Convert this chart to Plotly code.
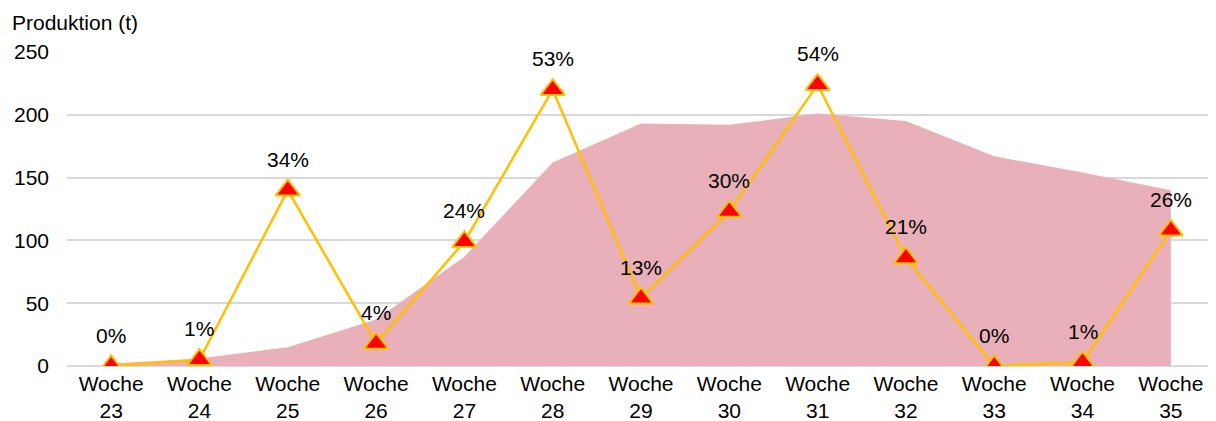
import plotly.graph_objects as go

weeks = ["Woche<br>23", "Woche<br>24", "Woche<br>25", "Woche<br>26", "Woche<br>27", "Woche<br>28",
         "Woche<br>29", "Woche<br>30", "Woche<br>31", "Woche<br>32", "Woche<br>33", "Woche<br>34", "Woche<br>35"]
area_values = [2, 6, 15, 37, 87, 162, 193, 192, 201, 195, 167, 154, 140]
line_values = [0, 5, 140, 18, 99, 220, 54, 123, 224, 86, 0, 3, 108]
pct_labels = ["0%", "1%", "34%", "4%", "24%", "53%", "13%", "30%", "54%", "21%", "0%", "1%", "26%"]
y_ticks = [0, 50, 100, 150, 200, 250]

FONT = "Liberation Sans, Arial, sans-serif"
FS = 21

fig = go.Figure()
fig.add_trace(go.Scatter(
    x=weeks, y=area_values, mode="none", fill="tozeroy",
    fillcolor="rgb(233,176,185)", hoverinfo="skip", showlegend=False,
))
fig.add_trace(go.Scatter(
    x=weeks, y=line_values, mode="lines+markers",
    line=dict(color="#FFC000", width=2.5),
    marker=dict(symbol="triangle-up", size=21, color="#FF0000",
                line=dict(color="#FFC000", width=2)),
    showlegend=False,
))
for w, v, t in zip(weeks, line_values, pct_labels):
    fig.add_annotation(x=w, y=v, text=t, showarrow=False, yshift=31,
                       font=dict(family=FONT, size=FS, color="#000000"))

fig.add_annotation(xref="paper", yref="paper", x=-0.0497, y=1.0, xanchor="left", yanchor="middle",
                   yshift=30, text="Produktion (t)", showarrow=False,
                   font=dict(family=FONT, size=FS, color="#000000"))

fig.update_layout(
    width=1208, height=413,
    margin=dict(l=59, r=1, t=44, b=55),
    paper_bgcolor="white", plot_bgcolor="white",
    font=dict(family=FONT, size=FS, color="#000000"),
    xaxis=dict(range=[-0.5, 12.5], showgrid=False, showline=False, ticks="",
               tickfont=dict(size=FS), ticklabelstandoff=3, automargin=False),
    yaxis=dict(range=[0, 250], tickvals=y_ticks, showgrid=True, gridcolor="#d9d9d9",
               gridwidth=2, zeroline=True, zerolinecolor="#d9d9d9", zerolinewidth=2,
               showline=False, ticks="", tickfont=dict(size=FS), ticklabelstandoff=17,
               automargin=False),
)
fig.write_html("out.html")
